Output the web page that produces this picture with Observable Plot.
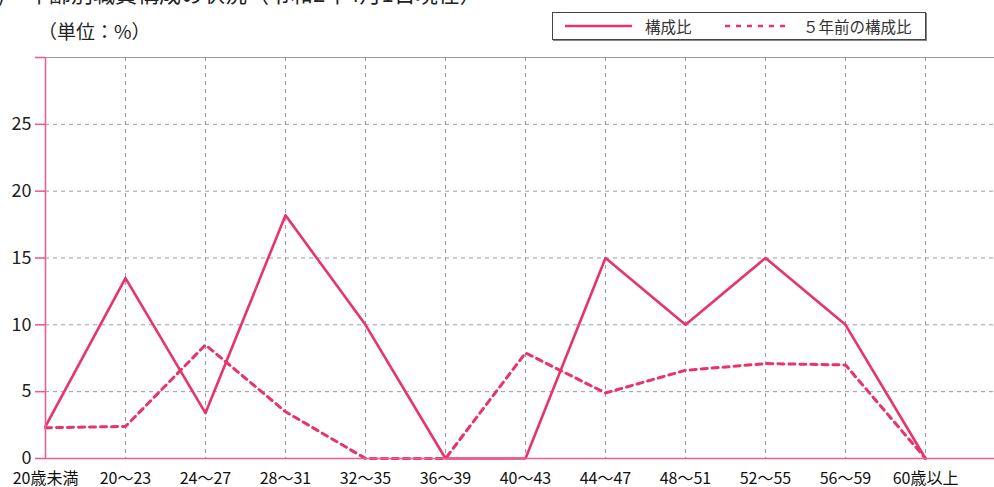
<!DOCTYPE html>
<html>
<head>
<meta charset="utf-8">
<script src="https://cdn.jsdelivr.net/npm/d3@7"></script>
<script src="https://cdn.jsdelivr.net/npm/@observablehq/plot@0.6"></script>
<style>
  html, body { margin: 0; padding: 0; background: #fff; }
  body { width: 994px; height: 487px; overflow: hidden; position: relative;
         font-family: "Noto Sans CJK JP", "Noto Sans", sans-serif; color: #222; }
  #chart { position: absolute; left: 0; top: 0; }
  .title { position: absolute; left: -22px; top: -24px; font-size: 22px; white-space: nowrap; color: #222; }
  .unit { position: absolute; left: 38px; top: 17px; font-size: 19px; white-space: nowrap; color: #222; }
  .legend { position: absolute; left: 552px; top: 12px; width: 372px; height: 26px;
            border: 1px solid #444; box-shadow: 1px 1px 0 #888; background: #fff;
            font-size: 15.5px; color: #333; }
  .legend .item { position: absolute; top: 0; height: 26px; line-height: 26px; white-space: nowrap; }
  .legend svg { position: absolute; top: 0; }
</style>
</head>
<body>
<div id="chart"></div>
<div class="title">(3)　年齢別職員構成の状況（令和2年4月1日現在）</div>
<div class="unit">（単位：%）</div>
<div class="legend" id="legend"></div>
<script>
const categories = ["20歳未満","20～23","24～27","28～31","32～35","36～39","40～43","44～47","48～51","52～55","56～59","60歳以上"];
const current = [2.4, 13.5, 3.4, 18.2, 10.0, 0, 0, 15.0, 10.0, 15.0, 10.0, 0];
const fiveYearsAgo = [2.3, 2.4, 8.5, 3.5, 0, 0, 7.9, 4.9, 6.6, 7.1, 7.0, 0];
const yTicks = [0, 5, 10, 15, 20, 25, 30];
const yLabelTicks = [0, 5, 10, 15, 20, 25];
const seriesNames = ["構成比", "５年前の構成比"];

const pink = "#e8336b";
const axisPink = "#e9628f";
const grid = "#9a9a9a";

const idx = categories.map((_, i) => i);
const dataCur = idx.map(i => ({i, v: current[i]}));
const dataPrev = idx.map(i => ({i, v: fiveYearsAgo[i]}));

const width = 994, height = 487, ml = 45, mr = 0;
const step = 80;

const chart = Plot.plot({
  width, height,
  marginLeft: ml, marginRight: mr, marginTop: 57, marginBottom: 29,
  style: {fontFamily: '"Noto Sans CJK JP", "Noto Sans", sans-serif', color: "#222", background: "#fff", overflow: "visible"},
  x: {type: "linear", domain: [0, (width - ml - mr) / step], axis: null},
  y: {domain: [0, 30], axis: null},
  marks: [
    Plot.ruleY(yTicks.filter(d => d > 0 && d < 30), {stroke: grid, strokeWidth: 1, strokeDasharray: "4,4"}),
    Plot.ruleX(idx.filter(i => i > 0), {stroke: grid, strokeWidth: 1, strokeDasharray: "4,4"}),
    Plot.ruleY([30], {stroke: grid, strokeWidth: 1.2}),
    Plot.line(dataPrev, {x: "i", y: "v", stroke: pink, strokeWidth: 3, strokeDasharray: "6,5"}),
    Plot.line(dataCur, {x: "i", y: "v", stroke: pink, strokeWidth: 2.6}),
    Plot.ruleY([0], {stroke: axisPink, strokeWidth: 1.6}),
    Plot.ruleX([0], {stroke: axisPink, strokeWidth: 1.6}),
    Plot.axisY({ticks: yTicks, tickSize: 10, tickPadding: 4, stroke: axisPink, strokeWidth: 1.6, label: null,
                tickFormat: d => yLabelTicks.includes(d) ? String(d) : "", fontSize: 18, fill: "#222"}),
    Plot.axisX({ticks: idx, tickSize: 0, tickPadding: 14, label: null, tickFormat: i => categories[i], fontSize: 16, fill: "#111"})
  ]
});
document.getElementById("chart").appendChild(chart);

// Legend
const lg = document.getElementById("legend");
lg.innerHTML = `
  <svg width="80" height="26" style="left:12px"><line x1="0" x2="67" y1="13" y2="13" stroke="${pink}" stroke-width="2.6"/></svg>
  <span class="item" style="left:92px">${seriesNames[0]}</span>
  <svg width="80" height="26" style="left:170px"><line x1="2" x2="66" y1="13" y2="13" stroke="${pink}" stroke-width="2.6" stroke-dasharray="5,6"/></svg>
  <span class="item" style="left:250px">${seriesNames[1]}</span>`;
</script>
</body>
</html>
